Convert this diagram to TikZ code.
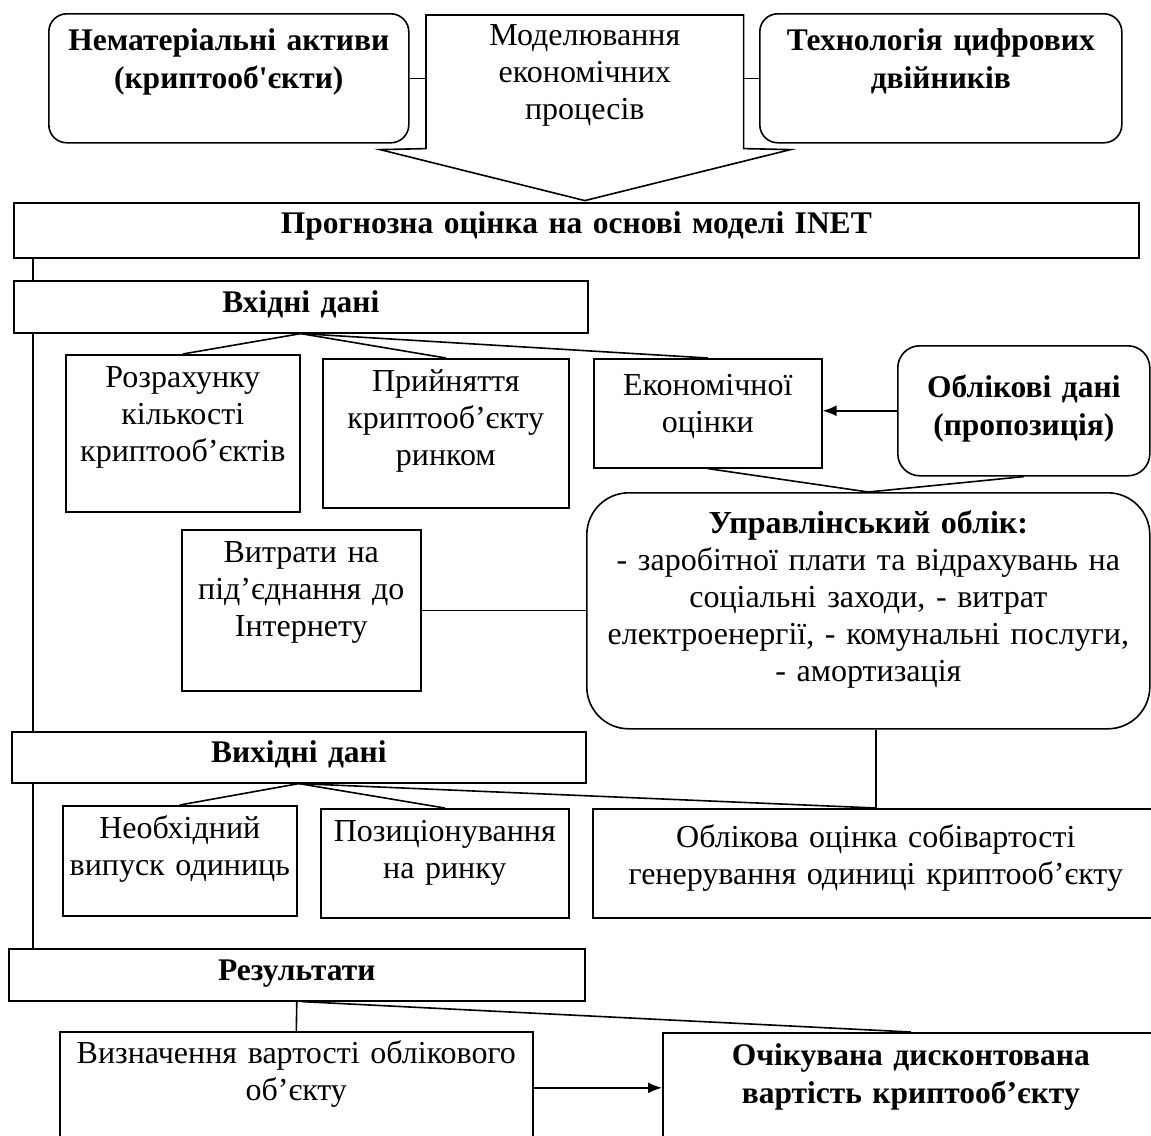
\documentclass[tikz,border=0pt]{standalone}
\usepackage{fontspec}
\setmainfont{Liberation Serif}
\usetikzlibrary{arrows.meta,positioning}

\begin{document}
\begin{tikzpicture}[x=1pt,y=-1pt,line width=1.6pt,
  box/.style={draw,fill=white,anchor=north west,inner xsep=4pt,inner ysep=0pt,
    align=center,font=\fontsize{32}{37}\selectfont},
  rbox/.style={box,rounded corners=18pt},
  txt/.style={box,draw=none,fill=none},
  hd/.style={font=\fontsize{31.5}{38}\selectfont\bfseries},
  sz/.code n args={3}{\pgfmathsetmacro\bw{#1-8}\pgfmathsetmacro\bd{#2-#3}%
    \edef\tmp{\noexpand\tikzset{minimum width=#1pt,text width=\bw pt,
      text height=#3pt,text depth=\bd pt}}\tmp},
  arr/.style={-{Latex[length=14pt,width=11pt]}}]

\useasboundingbox (0,0) rectangle (1151,1135);
\clip (0,0) rectangle (1151,1135);

% top row
\node[rbox,hd,sz={360}{129}{37}] (aktyvy) at (48,13) {Нематеріальні активи\\(криптооб\textquotesingle єкти)};
\node[txt,sz={316}{132}{30}] (model) at (426,15) {Моделювання\\економічних\\процесів};
\node[rbox,hd,sz={362}{129}{37}] (tsyfr) at (759,13) {Технологія цифрових\\двійників};
\coordinate (tip) at ([yshift=-52pt]model.south);
\draw (model.north west) -- (model.north east) -- (model.south east) -- ++(47,1) -- (tip)
  -- ([xshift=-46pt,yshift=-1pt]model.south west) -- (model.south west) -- cycle; % big arrow
\draw (aktyvy.east) -- (aktyvy.east -| model.west);
\draw (tsyfr.west) -- (tsyfr.west -| model.east);

\node[box,hd,sz={1125}{55}{31}] (prohnoz) at (13,202) {Прогнозна оцінка на основі моделі INET};
\coordinate (spine) at ([xshift=20pt]prohnoz.south west);

% input data
\node[box,hd,sz={574}{52}{32}] (vkhid) at (13,280) {Вхідні дані};
\node[box,sz={234}{157}{33}] (rozr) at (65,354) {Розрахунку\\кількості\\криптооб’єктів};
\node[box,sz={246}{149}{33}] (pryin) at (322,358) {Прийняття\\криптооб’єкту\\ринком};
\node[box,sz={228}{109}{37}] (ekon) at (593,358) {Економічної\\оцінки};
\node[rbox,hd,sz={252}{130}{52},rounded corners=22pt] (oblik) at (897,345) {Облікові дані\\(пропозиція)};
\node[rbox,sz={563}{236}{41},rounded corners=42pt] (upr) at (586,492)
  {\textbf{Управлінський облік:}\\- заробітної плати та відрахувань на\\соціальні заходи, - витрат\\електроенергії, - комунальні послуги,\\- амортизація};
\node[box,sz={239}{161}{33}] (vytr) at (181,529) {Витрати на\\під’єднання до\\Інтернету};

\draw (vkhid.south) -- (rozr.north);
\draw (vkhid.south) -- (pryin.north);
\draw (vkhid.south) -- (ekon.north);
\draw[arr] (oblik.west) -- (oblik.west -| ekon.east);
\draw (ekon.south) -- (upr.north) -- (oblik.south);
\draw (vytr.east) -- (vytr.east -| upr.west);

% output data
\node[box,hd,sz={574}{51}{31}] (vykhid) at (11,731) {Вихідні дані};
\node[box,sz={234}{110}{33}] (neobkh) at (62,805) {Необхідний\\випуск одиниць};
\node[box,sz={248}{109}{33}] (pozyts) at (320,808) {Позиціонування\\на ринку};
\node[box,sz={566}{109}{39}] (sobiv) at (592,808) {Облікова оцінка собівартості\\генерування одиниці криптооб’єкту};

\draw (vykhid.south) -- (neobkh.north);
\draw (vykhid.south) -- (pozyts.north);
\draw (vykhid.south) -- (sobiv.north);
\draw (sobiv.north) -- (sobiv.north |- upr.south);

% results
\node[box,hd,sz={576}{52}{32}] (rezult) at (8,948) {Результати};
\node[box,sz={473}{112}{32}] (vyzn) at (59,1031) {Визначення вартості облікового\\об’єкту};
\node[box,hd,sz={496}{110}{33}] (ochik) at (662,1032) {Очікувана дисконтована\\вартість криптооб’єкту};

\draw (rezult.south) -- (vyzn.north);
\draw ([xshift=5pt]rezult.south) -- (ochik.north);
\draw[arr] (vyzn.east) -- (ochik.west);

% left spine
\draw (spine) -- (spine |- vkhid.north);
\draw (spine |- vkhid.south) -- (spine |- vykhid.north);
\draw (spine |- vykhid.south) -- (spine |- rezult.north);

\end{tikzpicture}
\end{document}
